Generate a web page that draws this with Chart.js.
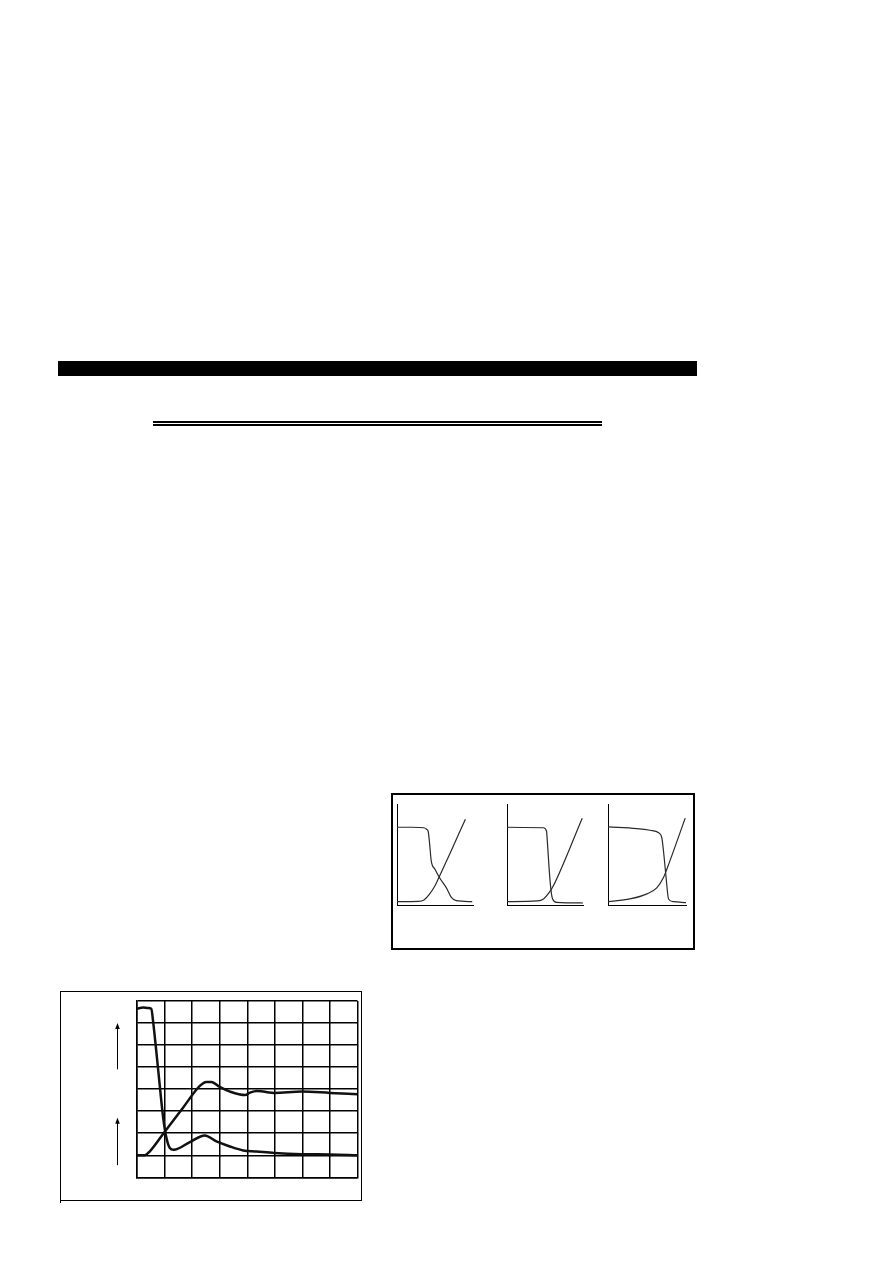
<!DOCTYPE html>
<html>
<head>
<meta charset="utf-8">
<script src="https://cdn.jsdelivr.net/npm/chart.js@4/dist/chart.umd.min.js"></script>
<style>
  html, body { margin: 0; padding: 0; background: #fff; }
  body { width: 893px; height: 1262px; position: relative; overflow: hidden; }
  .abs { position: absolute; }
  #bar { left: 58px; top: 361px; width: 639px; height: 15px; background: #000; }
  #dbl { left: 153px; top: 421px; width: 449px; height: 1px; border-top: 2px solid #000; border-bottom: 2px solid #000; }
  #box1 { left: 391px; top: 793px; width: 304px; height: 157px; border: 2px solid #000; box-sizing: border-box; }
  #box2 { left: 60px; top: 991px; width: 302px; height: 210px; border: 1px solid #000; box-sizing: border-box; }
  #tick2 { left: 60px; top: 1200px; width: 1px; height: 3px; background: #000; }
  canvas { position: absolute; }
</style>
</head>
<body>
<div id="bar" class="abs"></div>
<div id="dbl" class="abs"></div>
<div id="box1" class="abs"></div>
<div id="box2" class="abs"></div>
<div id="tick2" class="abs"></div>

<canvas id="s1" width="90" height="110" style="left:390px;top:800px"></canvas>
<canvas id="s2" width="90" height="110" style="left:500px;top:800px"></canvas>
<canvas id="s3" width="90" height="110" style="left:601px;top:800px"></canvas>
<canvas id="g" width="300" height="208" style="left:61px;top:992px"></canvas>

<script>
// ---- small charts (normalised axes 0..1) ----
const s1DropX = [0, 0.2, 0.355, 0.39, 0.41, 0.43, 0.45, 0.50, 0.56, 0.65, 0.715, 0.78, 0.99];
const s1DropY = [0.77, 0.77, 0.765, 0.75, 0.73, 0.60, 0.44, 0.354, 0.27, 0.17, 0.075, 0.043, 0.033];
const s1RiseX = [0, 0.28, 0.355, 0.43, 0.5, 0.55, 0.715, 0.9];
const s1RiseY = [0.033, 0.036, 0.05, 0.11, 0.19, 0.27, 0.54, 0.85];

const s2DropX = [0, 0.48, 0.52, 0.53, 0.556, 0.58, 0.60, 0.655, 1.0];
const s2DropY = [0.77, 0.765, 0.73, 0.64, 0.34, 0.14, 0.06, 0.026, 0.02];
const s2RiseX = [0, 0.4, 0.48, 0.57, 0.61, 0.99];
const s2RiseY = [0.033, 0.04, 0.06, 0.14, 0.19, 0.86];

const s3DropX = [0, 0.37, 0.54, 0.65, 0.69, 0.72, 0.745, 0.776, 0.84, 1.0];
const s3DropY = [0.774, 0.757, 0.74, 0.715, 0.665, 0.47, 0.27, 0.06, 0.033, 0.023];
const s3RiseX = [0, 0.28, 0.5, 0.625, 0.71, 0.754, 0.99];
const s3RiseY = [0.033, 0.06, 0.11, 0.17, 0.27, 0.354, 0.86];

// ---- grid chart (8 x 8 divisions) ----
const gridTicks = [0, 1, 2, 3, 4, 5, 6, 7, 8];
const fallX = [0, 0.22, 0.4, 0.52, 0.58, 0.76, 0.95, 1.07, 1.19, 1.33, 1.92, 2.46, 2.88, 3.37, 3.85, 4.34, 4.98, 5.98, 7.0, 8.0];
const fallY = [7.65, 7.7, 7.68, 7.65, 7.12, 4.98, 2.70, 1.78, 1.33, 1.25, 1.6, 1.9, 1.63, 1.40, 1.22, 1.17, 1.10, 1.05, 1.04, 1.0];
const riseX = [0, 0.28, 0.46, 1.0, 1.67, 2.28, 2.52, 2.7, 3.0, 3.37, 3.92, 4.1, 4.34, 4.58, 4.98, 5.98, 7.0, 8.0];
const riseY = [1.0, 1.0, 1.17, 2.06, 3.16, 4.15, 4.33, 4.33, 4.1, 3.89, 3.73, 3.84, 3.92, 3.89, 3.83, 3.89, 3.83, 3.77];
const arrowSpans = [[4.9, 7.0], [0.55, 2.7]];

function zip(xs, ys) { return xs.map((x, i) => ({ x: x, y: ys[i] })); }

function smallChart(id, dx, dy, rx, ry, pad) {
  const line = (d) => ({
    data: d, borderColor: '#2a2a2a', borderWidth: 1.2, pointRadius: 0,
    cubicInterpolationMode: 'monotone', fill: false
  });
  new Chart(document.getElementById(id), {
    type: 'line',
    data: { datasets: [line(zip(dx, dy)), line(zip(rx, ry))] },
    options: {
      responsive: false, animation: false, devicePixelRatio: 1,
      layout: { padding: pad },
      plugins: { legend: { display: false }, tooltip: { enabled: false } },
      scales: {
        x: { type: 'linear', min: 0, max: 1, ticks: { display: false, padding: 0 },
             afterFit: (s) => { s.height = 0; },
             grid: { display: false }, border: { display: true, color: '#000', width: 1 } },
        y: { type: 'linear', min: 0, max: 1, ticks: { display: false, padding: 0 },
             afterFit: (s) => { s.width = 0; },
             grid: { display: false }, border: { display: true, color: '#000', width: 1 } }
      }
    }
  });
}

smallChart('s1', s1DropX, s1DropY, s1RiseX, s1RiseY, { left: 7, top: 4, right: 7, bottom: 5 });
smallChart('s2', s2DropX, s2DropY, s2RiseX, s2RiseY, { left: 7, top: 4, right: 7, bottom: 5 });
smallChart('s3', s3DropX, s3DropY, s3RiseX, s3RiseY, { left: 7, top: 4, right: 5, bottom: 5 });

const arrowPlugin = {
  id: 'arrows',
  afterDraw(chart) {
    const ctx = chart.ctx, ys = chart.scales.y;
    const x = chart.chartArea.left - 20;
    ctx.save();
    ctx.strokeStyle = '#000'; ctx.fillStyle = '#000'; ctx.lineWidth = 1;
    arrowSpans.forEach(([a, b]) => {
      const y0 = ys.getPixelForValue(a), y1 = ys.getPixelForValue(b);
      ctx.beginPath(); ctx.moveTo(x + 0.5, y0); ctx.lineTo(x + 0.5, y1 + 5); ctx.stroke();
      ctx.beginPath(); ctx.moveTo(x + 0.5, y1); ctx.lineTo(x - 1.8, y1 + 6); ctx.lineTo(x + 2.8, y1 + 6); ctx.closePath(); ctx.fill();
    });
    ctx.restore();
  }
};

const gridAxis = {
  type: 'linear', min: 0, max: 8,
  afterBuildTicks: (s) => { s.ticks = gridTicks.map(v => ({ value: v })); },
  ticks: { display: false },
  grid: { display: true, color: '#000', lineWidth: 1.5, drawTicks: false },
  border: { display: true, color: '#000', width: 1.5 }
};

new Chart(document.getElementById('g'), {
  type: 'line',
  data: {
    datasets: [
      { data: zip(fallX, fallY), borderColor: '#111', borderWidth: 2.5, pointRadius: 0, cubicInterpolationMode: 'monotone' },
      { data: zip(riseX, riseY), borderColor: '#111', borderWidth: 2.5, pointRadius: 0, cubicInterpolationMode: 'monotone' }
    ]
  },
  options: {
    responsive: false, animation: false, devicePixelRatio: 1,
    layout: { padding: { left: 76, top: 9, right: 3.5, bottom: 22.7 } },
    plugins: { legend: { display: false }, tooltip: { enabled: false } },
    scales: { x: gridAxis, y: gridAxis }
  },
  plugins: [arrowPlugin]
});
</script>
</body>
</html>
